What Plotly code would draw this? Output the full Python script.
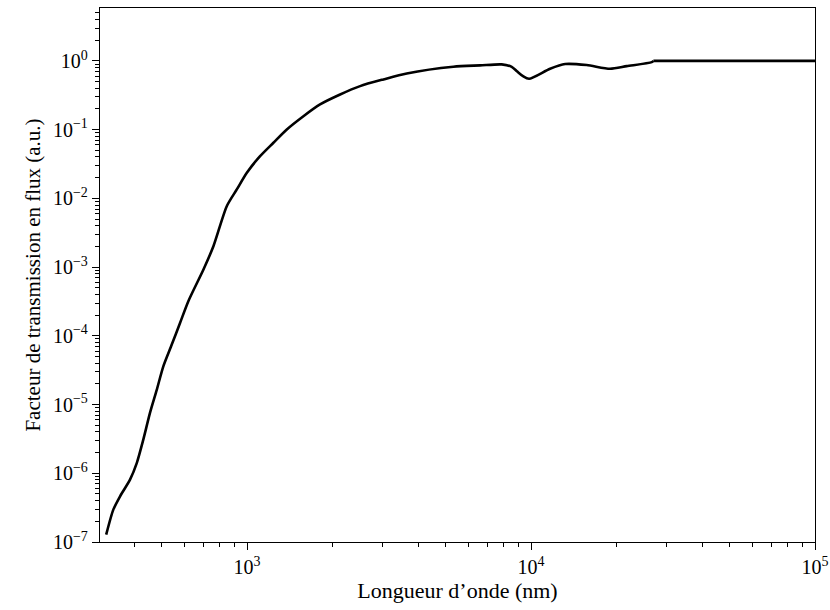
import plotly.graph_objects as go

# longueur d'onde (nm) et facteur de transmission
wavelength = [319, 338, 357, 387, 409, 431, 455, 481, 507, 543, 581, 621, 702, 761,
              848, 920, 998, 1111, 1238, 1380, 1579, 1807, 2126, 2500, 3020, 3650,
              5326, 6613, 7880, 8550, 8940, 9370, 9840, 11670, 13190, 15710, 18970,
              21730, 26610, 26970, 100000]
transmission = [1.28e-7, 2.96e-7, 4.63e-7, 8.09e-7, 1.42e-6, 3.09e-6, 7.56e-6, 1.65e-5,
                3.6e-5, 7.46e-5, 1.55e-4, 3.19e-4, 9.23e-4, 2.01e-3, 7.69e-3, 0.0135,
                0.0236, 0.0411, 0.0645, 0.1007, 0.157, 0.233, 0.325, 0.43, 0.538,
                0.658, 0.823, 0.86, 0.89, 0.82, 0.70, 0.60, 0.55, 0.77, 0.90, 0.87,
                0.77, 0.84, 0.96, 1.0, 1.0]

x_major = [1e3, 1e4, 1e5]
x_major_text = ["10<sup>3</sup>", "10<sup>4</sup>", "10<sup>5</sup>"]
y_exps = [-7, -6, -5, -4, -3, -2, -1, 0]

y_major = [10.0 ** e for e in y_exps]
y_major_text = ["10<sup>%s</sup>" % (str(e).replace("-", "−")) for e in y_exps]
x_minor = [m * 10 ** d for d in range(2, 5) for m in range(2, 10)]
y_minor = [m * 10.0 ** d for d in range(-7, 1) for m in range(2, 10)]

font = "Liberation Serif, DejaVu Serif, serif"

fig = go.Figure()
# partie lisse jusqu'au petit saut, puis plateau en ligne droite
fig.add_trace(go.Scatter(
    x=wavelength[:-1], y=transmission[:-1], mode="lines",
    line=dict(color="black", width=2.6, shape="spline", smoothing=0.7),
    showlegend=False,
))
fig.add_trace(go.Scatter(
    x=wavelength[-2:], y=transmission[-2:], mode="lines",
    line=dict(color="black", width=2.6),
    showlegend=False,
))

axis_common = dict(
    type="log", showline=True, mirror=True, linecolor="black", linewidth=1.3,
    showgrid=False, zeroline=False, ticks="outside", ticklen=7, tickwidth=1.2,
    tickcolor="black", tickfont=dict(family=font, size=20, color="black"),
    automargin=False,
)
fig.update_xaxes(
    **axis_common, range=[2.482, 5], tickmode="array",
    tickvals=x_major, ticktext=x_major_text,
    minor=dict(tickmode="array", tickvals=x_minor, ticks="outside",
               ticklen=4, tickwidth=1, tickcolor="black"),
    title=dict(text="Longueur d’onde (nm)", font=dict(family=font, size=22, color="black"),
               standoff=5),
)
fig.update_yaxes(
    **axis_common, range=[-7, 0.77], tickmode="array",
    tickvals=y_major, ticktext=y_major_text,
    minor=dict(tickmode="array", tickvals=y_minor, ticks="outside",
               ticklen=4, tickwidth=1, tickcolor="black"),
    title=dict(text="Facteur de transmission en flux (a.u.)",
               font=dict(family=font, size=21, color="black"), standoff=6),
)
fig.update_layout(
    width=830, height=610,
    margin=dict(l=100, r=15, t=8, b=68),
    paper_bgcolor="white", plot_bgcolor="white",
)
# pas de marge de page autour de la figure
fig.write_html("out.html", config={"displayModeBar": False},
               post_script="document.body.style.margin = '0px';")
